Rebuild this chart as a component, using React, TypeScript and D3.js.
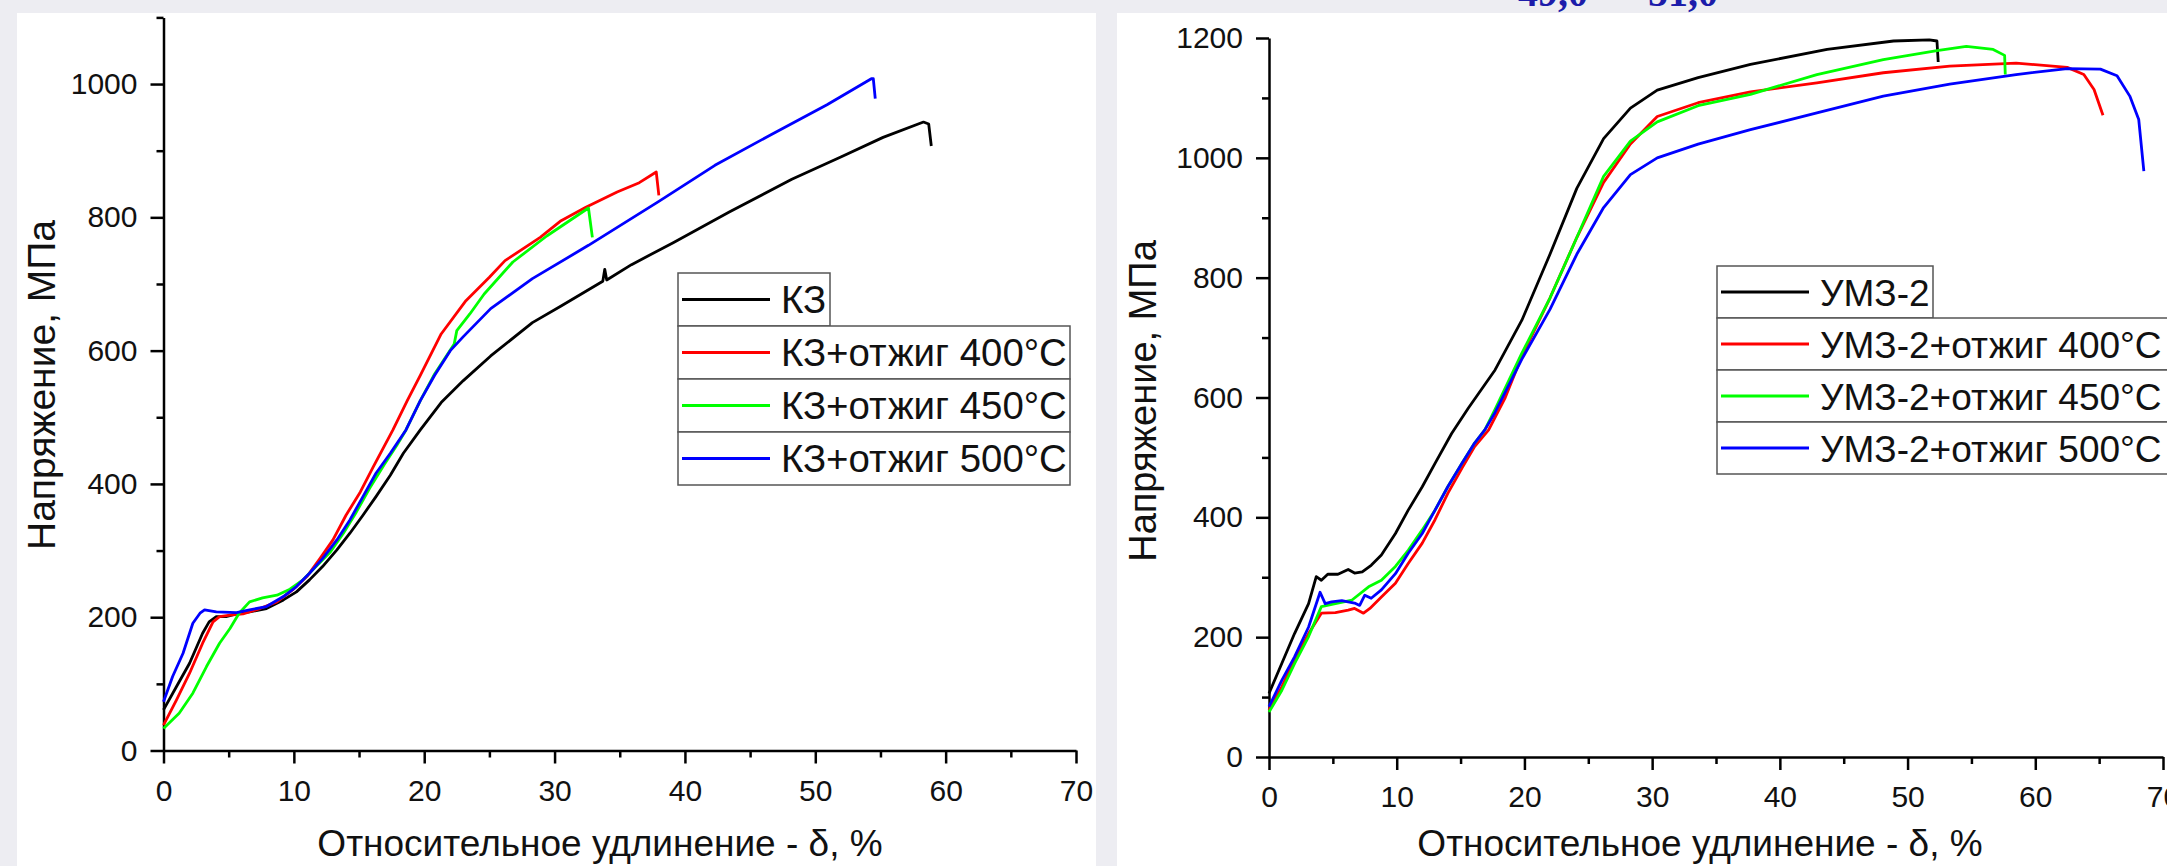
import React, { useEffect, useRef } from 'react';
import * as d3 from 'd3';

const W = 2167;
const H = 866;

// axes ticks
const X_TICKS = [0, 10, 20, 30, 40, 50, 60, 70];
const X_MINOR = [5, 15, 25, 35, 45, 55, 65];
const LEFT_Y_TICKS = [0, 200, 400, 600, 800, 1000];
const LEFT_Y_MINOR = [100, 300, 500, 700, 900, 1100];
const RIGHT_Y_TICKS = [0, 200, 400, 600, 800, 1000, 1200];
const RIGHT_Y_MINOR = [100, 300, 500, 700, 900, 1100];

const COLORS = ['#000000', '#ff0000', '#00ff00', '#0000ff'];
const LEFT_LABELS = ['КЗ', 'КЗ+отжиг 400°C', 'КЗ+отжиг 450°C', 'КЗ+отжиг 500°C'];
const RIGHT_LABELS = ['УМЗ-2', 'УМЗ-2+отжиг 400°C', 'УМЗ-2+отжиг 450°C', 'УМЗ-2+отжиг 500°C'];
const X_TITLE = 'Относительное удлинение - δ, %';
const Y_TITLE = 'Напряжение, МПа';

// [strain %, stress MPa]
const kz = [[0, 61], [1, 96], [2, 131], [3, 176], [3.5, 193], [4.05, 201], [4.8, 201], [5.6, 205], [6.6, 208], [7.9, 213], [9.2, 226], [10.2, 238], [11.2, 256], [12.2, 276], [13.3, 301], [14.3, 326], [15.3, 353], [16.3, 381], [17.4, 413], [18.4, 446], [19.7, 481], [21.3, 522], [23, 555], [25.1, 592], [28.3, 642], [30.5, 667], [33.7, 704], [33.85, 722], [34.0, 706], [35.9, 729], [39.1, 762], [43.4, 808], [48.2, 857], [52, 891], [55.2, 920], [58.3, 943], [58.7, 940], [58.9, 907]];
const kz400 = [[0, 38], [1, 76], [2, 116], [3, 161], [3.8, 193], [4.3, 201], [5.1, 203], [6.1, 205], [7.4, 213], [8.7, 223], [9.9, 241], [11, 261], [12, 288], [13, 316], [14, 353], [15.1, 388], [16.1, 426], [17.6, 481], [18.7, 525], [19.7, 563], [21.3, 625], [23.2, 675], [25, 710], [26.2, 735], [28.9, 770], [30.5, 795], [32.4, 815], [34.8, 838], [36.5, 852], [37.8, 868], [38.0, 833]];
const kz450 = [[0, 33], [1.2, 56], [2.25, 86], [3.3, 126], [4.3, 161], [5.1, 183], [5.8, 206], [6.6, 223], [7.6, 229], [8.7, 233], [9.7, 242], [10.7, 256], [11.7, 276], [12.8, 298], [13.8, 326], [14.8, 358], [15.8, 393], [16.9, 428], [17.9, 458], [18.6, 481], [19.7, 525], [20.8, 565], [22.3, 610], [22.5, 630], [23.5, 655], [24.6, 685], [26.8, 733], [29.4, 772], [31, 793], [32.6, 814], [32.9, 770]];
const kz500 = [[0, 73], [0.7, 111], [1.5, 146], [2.25, 191], [2.8, 206], [3.15, 211], [4.05, 208], [5.6, 207], [6.6, 211], [7.9, 216], [9.2, 231], [10.2, 246], [11.2, 266], [12.2, 288], [13.3, 316], [14.3, 346], [15.3, 381], [16.3, 416], [17.4, 446], [18.6, 481], [19.7, 525], [20.8, 563], [22, 600], [23, 621], [25.1, 663], [28.3, 708], [32.6, 758], [38, 824], [42.3, 878], [46.6, 924], [50.9, 969], [54.3, 1008], [54.45, 1008], [54.6, 978]];

const umz = [[0, 106], [1, 156], [2, 206], [3.1, 256], [3.7, 301], [4.1, 295], [4.6, 305], [5.4, 305], [6.2, 313], [6.7, 307], [7.3, 309], [8, 320], [8.8, 337], [9.9, 373], [10.9, 412], [12, 451], [13, 490], [14.3, 540], [15.6, 582], [17.7, 646], [19.8, 729], [22, 839], [24.1, 949], [26.2, 1032], [28.3, 1083], [30.4, 1113], [33.6, 1134], [37.7, 1156], [43.7, 1181], [48.9, 1195], [51.7, 1197], [52.3, 1195], [52.4, 1160]];
const umz400 = [[0, 78], [1, 117], [2, 162], [3.1, 206], [4.1, 240], [5.2, 241], [6.2, 245], [6.7, 248], [7.4, 240], [7.9, 248], [8.8, 267], [9.9, 290], [10.9, 323], [12, 357], [13, 396], [14, 440], [15.1, 482], [16.1, 518], [17.2, 546], [18.5, 600], [19.8, 669], [22, 766], [24.1, 867], [26.2, 959], [28.3, 1023], [30.4, 1069], [33.6, 1092], [37.7, 1110], [42.9, 1125], [48.1, 1142], [53.3, 1153], [58.5, 1158], [62.5, 1151], [63.8, 1139], [64.6, 1114], [65.3, 1071]];
const umz450 = [[0, 75], [1, 111], [2, 156], [3.1, 201], [4.1, 251], [5.2, 256], [6.5, 262], [7.8, 284], [8.8, 295], [9.9, 318], [10.9, 345], [12, 379], [13, 412], [14, 451], [15.1, 490], [16.1, 524], [16.9, 546], [17.7, 580], [19.8, 674], [22, 766], [24.1, 867], [26.2, 969], [28.3, 1028], [30.4, 1060], [33.6, 1087], [37.7, 1106], [42.9, 1139], [48.1, 1164], [52.3, 1179], [54.6, 1186], [56.7, 1181], [57.6, 1171], [57.65, 1139]];
const umz500 = [[0, 84], [1, 128], [2, 167], [3.1, 217], [4, 275], [4.4, 256], [4.9, 259], [5.7, 261], [6.7, 257], [7.1, 253], [7.5, 270], [8, 265], [8.8, 279], [9.9, 306], [10.9, 340], [12, 373], [13, 412], [14, 451], [15.1, 490], [16.1, 524], [16.9, 546], [17.7, 575], [19.8, 664], [22, 747], [24.1, 839], [26.2, 917], [28.3, 972], [30.4, 1000], [33.6, 1023], [37.7, 1047], [42.9, 1075], [48.1, 1103], [53.3, 1123], [58.5, 1139], [62.5, 1149], [65.1, 1148], [66.4, 1137], [67.4, 1103], [68.1, 1064], [68.5, 978]];

const FONT = 'Arial, "Liberation Sans", sans-serif';

const App = () => {
    const svgRef = useRef(null);

    useEffect(() => {
        const svg = d3.select(svgRef.current);
        svg.selectAll('*').remove();

        // background and the two white panels
        svg.append('rect').attr('width', W).attr('height', H).attr('fill', '#ededf2');
        svg.append('text')
            .attr('x', 1518).attr('y', 6)
            .attr('font-family', '"Liberation Serif", "Times New Roman", serif')
            .attr('font-weight', 'bold').attr('font-size', 40).attr('fill', '#1c1caa')
            .text('49,0');
        svg.append('text')
            .attr('x', 1648).attr('y', 6)
            .attr('font-family', '"Liberation Serif", "Times New Roman", serif')
            .attr('font-weight', 'bold').attr('font-size', 40).attr('fill', '#1c1caa')
            .text('51,0');
        svg.append('rect').attr('x', 17).attr('y', 13).attr('width', 1079).attr('height', H - 13).attr('fill', '#ffffff');
        svg.append('rect').attr('x', 1117).attr('y', 13).attr('width', W - 1117).attr('height', H - 13).attr('fill', '#ffffff');

        drawChart(svg, {
            xRange: [163.5, 1076],
            yMax: 1100,
            yRange: [750.5, 17.4],
            yTicks: LEFT_Y_TICKS,
            yMinor: LEFT_Y_MINOR,
            series: [kz, kz400, kz450, kz500],
            labels: LEFT_LABELS,
            yTitle: [55, 385],
            yTitleSize: 39,
            xTitle: [600, 856],
            legend: { x: 678, y: 273, w1: 152, w: 392, h: 53, font: 38.4 }
        });

        drawChart(svg, {
            xRange: [1269, 2163],
            yMax: 1200,
            yRange: [757, 38],
            yTicks: RIGHT_Y_TICKS,
            yMinor: RIGHT_Y_MINOR,
            series: [umz, umz400, umz450, umz500],
            labels: RIGHT_LABELS,
            yTitle: [1156, 401],
            yTitleSize: 38,
            xTitle: [1700, 856],
            legend: { x: 1717, y: 266, w1: 216, w: 500, h: 52, font: 37 }
        });

        //----- FUNCTION DEFINITIONS -------------------------------------------------------------------------//

        function drawChart(root, cfg) {
            const g = root.append('g');
            const x = d3.scaleLinear().domain([0, 70]).range(cfg.xRange);
            const y = d3.scaleLinear().domain([0, cfg.yMax]).range(cfg.yRange);

            const styleAxis = (a) => {
                a.selectAll('path, line').attr('stroke', '#000').attr('stroke-width', 2.5);
                a.selectAll('text').attr('font-family', FONT).attr('font-size', 30).attr('fill', '#111');
            };

            // minor ticks
            g.append('g').attr('transform', `translate(0,${cfg.yRange[0]})`)
                .call(d3.axisBottom(x).tickValues(X_MINOR).tickSize(7).tickFormat(() => ''))
                .call(a => a.select('.domain').remove())
                .call(styleAxis);
            g.append('g').attr('transform', `translate(${cfg.xRange[0]},0)`)
                .call(d3.axisLeft(y).tickValues(cfg.yMinor).tickSize(7).tickFormat(() => ''))
                .call(a => a.select('.domain').remove())
                .call(styleAxis);

            // major ticks + domain
            g.append('g').attr('transform', `translate(0,${cfg.yRange[0]})`)
                .call(d3.axisBottom(x).tickValues(X_TICKS).tickSize(13).tickSizeOuter(0).tickPadding(16).tickFormat(d3.format('d')))
                .call(styleAxis);
            g.append('g').attr('transform', `translate(${cfg.xRange[0]},0)`)
                .call(d3.axisLeft(y).tickValues(cfg.yTicks).tickSize(13).tickSizeOuter(0).tickPadding(13).tickFormat(d3.format('d')))
                .call(styleAxis);

            // curves
            const line = d3.line().x(d => x(d[0])).y(d => y(d[1]));
            cfg.series.forEach((s, i) => {
                g.append('path')
                    .attr('d', line(s))
                    .attr('fill', 'none')
                    .attr('stroke', COLORS[i])
                    .attr('stroke-width', 2.8)
                    .attr('stroke-linejoin', 'round');
            });

            // axis titles
            g.append('text')
                .attr('transform', `translate(${cfg.yTitle[0]},${cfg.yTitle[1]}) rotate(-90)`)
                .attr('text-anchor', 'middle')
                .attr('font-family', FONT).attr('font-size', cfg.yTitleSize).attr('fill', '#111')
                .text(Y_TITLE);
            g.append('text')
                .attr('x', cfg.xTitle[0]).attr('y', cfg.xTitle[1])
                .attr('text-anchor', 'middle')
                .attr('font-family', FONT).attr('font-size', 37).attr('fill', '#111')
                .text(X_TITLE);

            // legend: one framed box per entry
            const lg = cfg.legend;
            cfg.labels.forEach((lab, i) => {
                const top = lg.y + i * lg.h;
                const cy = top + lg.h / 2;
                g.append('rect')
                    .attr('x', lg.x).attr('y', top)
                    .attr('width', i === 0 ? lg.w1 : lg.w).attr('height', lg.h)
                    .attr('fill', '#fff').attr('stroke', '#555').attr('stroke-width', 1.5);
                g.append('line')
                    .attr('x1', lg.x + 4).attr('x2', lg.x + 92)
                    .attr('y1', cy).attr('y2', cy)
                    .attr('stroke', COLORS[i]).attr('stroke-width', 3);
                g.append('text')
                    .attr('x', lg.x + 103).attr('y', cy + 13.5)
                    .attr('font-family', FONT).attr('font-size', lg.font).attr('fill', '#111')
                    .text(lab);
            });
        }
    }, []);

    return <React.Fragment>
        <svg ref={svgRef} width={W} height={H} style={{ position: 'absolute', left: 0, top: 0, display: 'block' }} />
    </React.Fragment>;
};

export default App;
